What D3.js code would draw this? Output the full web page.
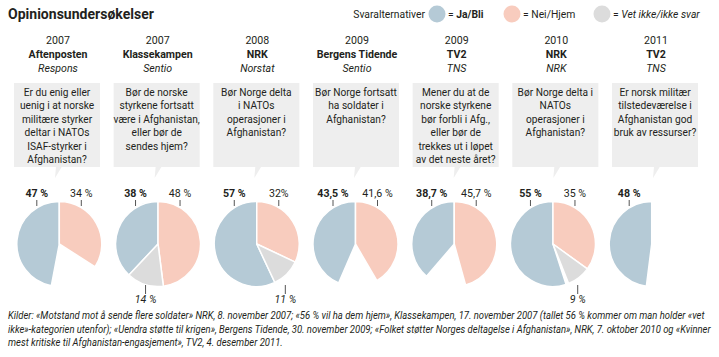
<!DOCTYPE html>
<html><head><meta charset="utf-8">
<script src="https://cdn.jsdelivr.net/npm/d3@7"></script>
<style>
html,body{margin:0;padding:0;background:#fff;}
svg{display:block;font-family:Roboto,"Open Sans",sans-serif;}
</style></head>
<body>
<svg id="chart" width="719" height="357"></svg>
<script>
const years = ["2007","2007","2008","2009","2009","2010","2011"];
const media = ["Aftenposten","Klassekampen","NRK","Bergens Tidende","TV2","NRK","TV2"];
const pollsters = ["Respons","Sentio","Norstat","Sentio","TNS","NRK","TNS"];
const questions = [
  ["Er du enig eller","uenig i at norske","militære styrker","deltar i NATOs","ISAF-styrker i","Afghanistan?"],
  ["Bør de norske","styrkene fortsatt","være i Afghanistan,","eller bør de","sendes hjem?"],
  ["Bør Norge delta","i NATOs","operasjoner i","Afghanistan?"],
  ["Bør Norge fortsatt","ha soldater i","Afghanistan?"],
  ["Mener du at de","norske styrkene","bør forbli i Afg.,","eller bør de","trekkes ut i løpet","av det neste året?"],
  ["Bør Norge delta i","NATOs","operasjoner i","Afghanistan?"],
  ["Er norsk militær","tilstedeværelse i","Afghanistan god","bruk av ressurser?"]
];
const jaValues  = [47, 38, 57, 43.5, 38.7, 55, 48];
const neiValues = [34, 48, 32, 41.6, 45.7, 35, 0];
const vetValues = [0, 14, 11, 0, 0, 9, 0];
const jaLabels  = ["47 %","38 %","57 %","43,5 %","38,7 %","55 %","48 %"];
const neiLabels = ["34 %","48 %","32%","41,6 %","45,7 %","35 %",""];
const vetLabels = ["","14 %","11 %","","","9 %",""];
const legendLabels = ["Ja/Bli","Nei/Hjem","Vet ikke/ikke svar"];
const sourceLines = [
  "Kilder: «Motstand mot å sende flere soldater» NRK, 8. november 2007; «56 % vil ha dem hjem», Klassekampen, 17. november 2007 (tallet 56 % kommer om man holder «vet",
  "ikke»-kategorien utenfor); «Uendra støtte til krigen», Bergens Tidende, 30. november 2009; «Folket støtter Norges deltagelse i Afghanistan», NRK, 7. oktober 2010 og «Kvinner",
  "mest kritiske til Afghanistan-engasjement», TV2, 4. desember 2011."
];

const C = {ja:"#b5cad6", nei:"#f8ccbe", vet:"#dcdcdc", box:"#eeeeee", text:"#231f20"};
const svg = d3.select("#chart");
const K = 0.9;

// text placed at (x,y), horizontally condensed by factor k (or fitted to width w)
function ctext(parent, x, y, txt, o){
  o = o || {};
  const t = parent.append("text").attr("x",0).attr("y",0)
    .attr("font-size",o.size||12).attr("fill",C.text)
    .attr("text-anchor",o.anchor||"start");
  if(o.bold) t.attr("font-weight","bold");
  if(o.italic) t.attr("font-style","italic");
  if(o.parts){
    o.parts.forEach(p=>{
      const s = t.append("tspan").text(p.t);
      if(p.bold) s.attr("font-weight","bold");
      if(p.italic) s.attr("font-style","italic");
    });
  } else t.text(txt);
  const w = t.node().getComputedTextLength();
  const s = o.width ? o.width/w : (o.k||K);
  t.attr("transform",`translate(${x},${y}) scale(${s},1)`);
  return t;
}

// Title
ctext(svg, 8, 19, "Opinionsundersøkelser", {size:14.5, bold:true, width:146});

// Legend
ctext(svg, 425, 18, "Svaralternativer", {size:11.5, anchor:"end"});
const legX = [437, 512, 602];
const legCol = [C.ja, C.nei, C.vet];
legendLabels.forEach((l,i)=>{
  svg.append("circle").attr("cx",legX[i]).attr("cy",14).attr("r",8.5).attr("fill",legCol[i]);
  ctext(svg, legX[i]+11, 18, null, {size:11.5, parts:[{t:"= "},{t:l, bold:i===0, italic:i===2}]});
});

const cols = d3.range(7);
const boxX = d3.scaleLinear().domain([0,6]).range([57, 655]);
const pieX = d3.scaleLinear().domain([0,6]).range([59.3, 651.7]);
const angle = d3.scaleLinear().domain([0,100]).range([0, 2*Math.PI]);
const R = 42.5, CY = 244;
const arc = d3.arc().innerRadius(0).outerRadius(R);

cols.forEach(i=>{
  const bx = boxX(i), px = pieX(i);
  const g = svg.append("g");
  // header
  ctext(g, bx+1, 44, years[i], {size:11.8, anchor:"middle"});
  ctext(g, bx+1, 58, media[i], {size:11.8, anchor:"middle", bold:true});
  ctext(g, bx+1, 72, pollsters[i], {size:11.8, anchor:"middle", italic:true});
  // box
  g.append("rect").attr("x",bx-43).attr("y",83).attr("width",86).attr("height",84).attr("fill",C.box);
  g.append("path").attr("d",`M${bx-1},166.5 L${bx+5},166.5 L${bx-2},178 Z`).attr("fill",C.box);
  questions[i].forEach((q,j)=>{
    ctext(g, bx, 96+j*13.4, q, {size:11.3, anchor:"middle"});
  });
  // pie
  const pg = g.append("g").attr("transform",`translate(${px},${CY})`);
  const slices = [
    {v:jaValues[i], s:-angle(jaValues[i]), e:0, c:C.ja},
    {v:neiValues[i], s:0, e:angle(neiValues[i]), c:C.nei},
    {v:vetValues[i], s:angle(neiValues[i]), e:angle(neiValues[i]+vetValues[i]), c:C.vet}
  ].filter(d=>d.v>0);
  pg.selectAll("path").data(slices).join("path")
    .attr("d",d=>arc({startAngle:d.s,endAngle:d.e}))
    .attr("fill",d=>d.c).attr("stroke","#fff").attr("stroke-width",1.5).attr("stroke-linejoin","round");
  // labels top
  const lab = (x,txt,bold)=>{
    g.append("line").attr("x1",x).attr("x2",x).attr("y1",200).attr("y2",206).attr("stroke","#555").attr("stroke-width",1);
    ctext(g, x, 197, txt, {size:11.8, anchor:"middle", bold:bold});
  };
  lab(px-22.5, jaLabels[i], true);
  if(neiLabels[i]) lab(px+22, neiLabels[i], false);
  if(vetValues[i]>0){
    const mid = angle(neiValues[i]+vetValues[i]/2);
    const x = px + R*Math.sin(mid)*0.95;
    g.append("line").attr("x1",x).attr("x2",x).attr("y1",285).attr("y2",294).attr("stroke","#555").attr("stroke-width",1);
    ctext(g, x, 303, vetLabels[i], {size:11.8, anchor:"middle", italic:true});
  }
});

// sources
const srcW = [697, 703, 275];
sourceLines.forEach((l,i)=>{
  ctext(svg, 8, 319+i*13.5, l, {size:10.3, italic:true, width:srcW[i]});
});
</script>
</body></html>
